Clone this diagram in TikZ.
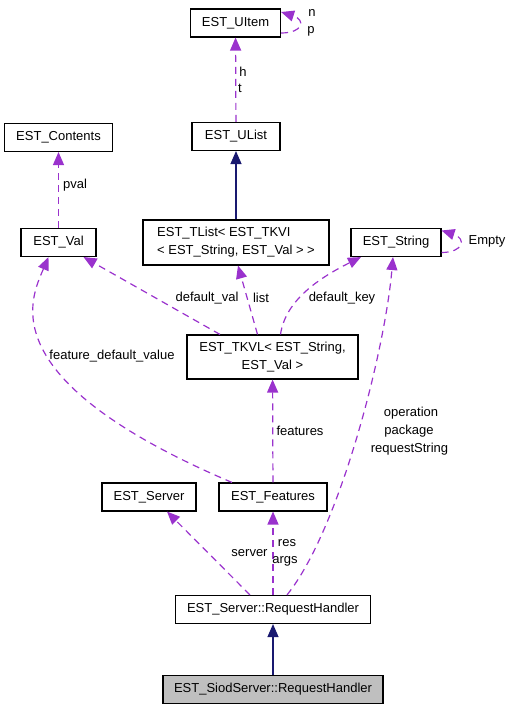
\documentclass[tikz,border=0pt]{standalone}
\usepackage{fontspec}
\setmainfont{Liberation Sans}
\usepackage{tikz}
\usetikzlibrary{arrows.meta,calc}
\usepackage{xcolor}
\definecolor{UsagePurple}{HTML}{9a32cd}
\definecolor{InheritNavy}{HTML}{191970}
\definecolor{ClassGray}{HTML}{bfbfbf}

\begin{document}
\begin{tikzpicture}[x=1pt,y=-1pt,
    classbox/.style={draw=black,line width=1.1pt,fill=white,inner sep=2pt,
      minimum height=28pt,font=\fontsize{13}{18}\selectfont},
    usage/.style={draw=UsagePurple,line width=1.2pt,dash pattern=on 7pt off 5pt,
      -{Triangle[length=13pt,width=11pt]}},
    inherit/.style={draw=InheritNavy,line width=1.2pt,
      -{Triangle[length=13pt,width=11pt]}},
    lbl/.style={inner sep=0pt,font=\fontsize{13}{16}\selectfont}]
    \useasboundingbox (0,0) rectangle (512,709);
    \foreach \name/\x/\y/\w/\txt in {UItem/235.5/23/90/EST\_UItem,
      UList/236/136.5/88/EST\_UList,
      Contents/58.5/137.5/108/EST\_Contents,
      Val/58.5/242.5/75/EST\_Val,
      String/396/242.5/90/EST\_String,
      Features/273/497/108/EST\_Features,
      Server/149/497/94/EST\_Server,
      RH/273/609.5/195/EST\_Server::RequestHandler} {
     \node[classbox,minimum width=\w pt] (\name) at (\x,\y) {\txt};
    }
    \node[classbox,minimum width=220pt,fill=ClassGray] (Siod) at (273,689.5)
      {EST\_SiodServer::RequestHandler};
    \node[classbox,minimum width=186pt,minimum height=45pt,align=left] (TList)
      at (236,242.5) {EST\_TList< EST\_TKVI\\< EST\_String, EST\_Val > >};
    \node[classbox,minimum width=171pt,minimum height=44pt,align=center] (TKVL)
      at (272.5,357) {EST\_TKVL< EST\_String,\\EST\_Val >};

    \draw[inherit] (Siod) -- (RH);
    \draw[inherit] (TList) -- (UList);
    \draw[usage] (UList) -- (UItem);
    \draw[usage] ([yshift=-10pt]UItem.east) .. controls +(22,0) and +(25,8) .. ([yshift=11pt]UItem.east);
    \draw[usage] (Val) -- (Contents);
    \draw[usage] ([yshift=-10pt]String.east) .. controls +(22,0) and +(25,8) .. ([yshift=12pt]String.east);
    \draw[usage] ([xshift=-52.5pt]TKVL.north) -- ([xshift=-13pt]Val.south east);
    \draw[usage] ([xshift=-15pt]TKVL.north) -- ([xshift=2pt]TList.south);
    \draw[usage] ([xshift=8pt]TKVL.north) .. controls +(5,-35) and +(-40,20) .. ([xshift=-35pt]String.south);
    \draw[usage] ([xshift=-41pt]Features.north) .. controls +(-242,-103) and +(-18,42) .. ([xshift=-10pt]Val.south);
    \draw[usage] (Features) -- (TKVL);
    \draw[usage] ([xshift=-23pt]RH.north) -- ([xshift=18pt]Server.south);
    \draw[usage] (RH) -- (Features);
    \draw[usage] ([xshift=14pt]RH.north) .. controls +(53,-66) and +(-8,93) .. ([xshift=-3pt]String.south);

    \node[lbl] (lN) at (312,13) {n};
    \node[lbl] (lP) at (311,31) {p};
    \node[lbl] (lH) at (243,72) {h};
    \node[lbl] (lT) at (240,88) {t};
    \node[lbl] (lPval) at (75,185) {pval};
    \node[lbl] (lEmpty) at (487,241) {Empty};
    \node[lbl] (lDefVal) at (207,298) {default\_val};
    \node[lbl] (lList) at (261,298) {list};
    \node[lbl] (lDefKey) at (342,298) {default\_key};
    \node[lbl] (lFeatDef) at (112,356) {feature\_default\_value};
    \node[lbl] (lFeatures) at (300,431) {features};
    \node[lbl] (lOper) at (411,413) {operation};
    \node[lbl] (lPack) at (409,431) {package};
    \node[lbl] (lReq) at (409.5,449) {requestString};
    \node[lbl] (lServer) at (249.5,553) {server};
    \node[lbl] (lRes) at (287,543) {res};
    \node[lbl] (lArgs) at (285,561) {args};
\end{tikzpicture}
\end{document}
